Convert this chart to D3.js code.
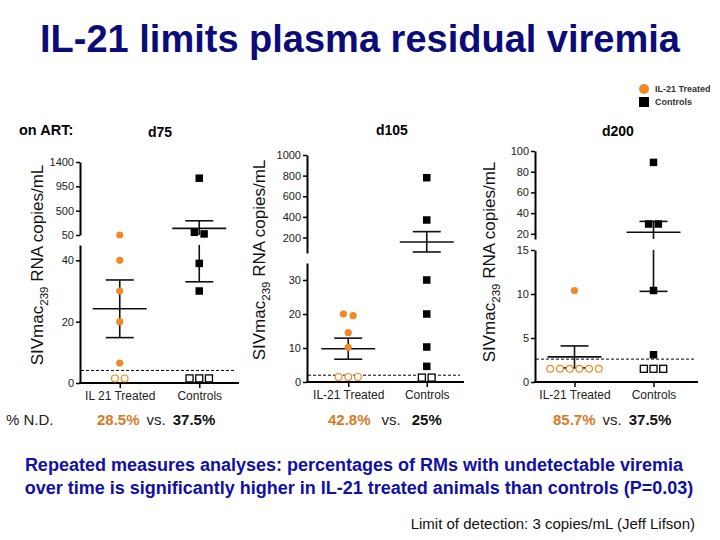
<!DOCTYPE html>
<html><head><meta charset="utf-8">
<script src="https://cdn.jsdelivr.net/npm/d3@7/dist/d3.min.js"></script>
<style>body{margin:0;background:#fff}svg{display:block;font-family:"Liberation Sans",Arial,sans-serif}</style>
</head><body><svg id="c" width="720" height="540"></svg>
<script>
// ---- data ----
const days = ["d75", "d105", "d200"];
const categoryLabels = [["IL 21 Treated", "Controls"], ["IL-21 Treated", "Controls"], ["IL-21 Treated", "Controls"]];
const treated_d75  = [50, 40, 30, 20, 6.5, 1.5, 1.5];
const controls_d75 = [1100, 100, 70, 39, 30, 1.5, 1.5, 1.5];
const treated_d105  = [20, 19.5, 14.5, 10.2, 1.5, 1.5, 1.5];
const controls_d105 = [780, 370, 30, 20, 10.3, 4.6, 1.3, 1.3];
const treated_d200  = [10.4, 1.5, 1.5, 1.5, 1.5, 1.5, 1.5];
const controls_d200 = [89, 29.5, 29.5, 10.4, 3.1, 1.5, 1.5, 1.5];
const meanTreated  = [24.2, 9.8, 2.85];
const lowTreated   = [14.8, 6.7, 1.6];
const highTreated  = [33.6, 12.9, 4.1];
const meanControls = [172, 157, 21.5];
const lowControls  = [33, 60, 10.3];
const highControls = [313, 257, 32];
const lodLine = [4.1, 2.0, 2.6];
const upperDomains = [[50, 1400], [50, 1000], [15, 100]];
const lowerDomains = [[0, 45], [0, 35], [0, 15]];
const upperTicks = [[50, 500, 950, 1400], [200, 400, 600, 800, 1000], [20, 40, 60, 80, 100]];
const lowerTicks = [[0, 20, 40], [0, 10, 20, 30], [0, 5, 10, 15]];
const pctTreated = ["28.5%", "42.8%", "85.7%"];
const pctControls = ["37.5%", "25%", "37.5%"];

const treatedSeries = [treated_d75, treated_d105, treated_d200];
const controlSeries = [controls_d75, controls_d105, controls_d200];

// ---- layout ----
const ORANGE = "#ef8a27";
const layout = [
  {ax: 80, xEnd: 239, pts: [80, 239], up: [235, 162], lo: [383, 245], titleX: 43, titleY: 265, head: [148, 137]},
  {ax: 307, xEnd: 464, pts: [309, 466], up: [253, 155], lo: [382, 263], titleX: 265, titleY: 260, head: [376, 135]},
  {ax: 535, xEnd: 698, pts: [535, 693], up: [239, 151], lo: [382, 250], titleX: 495, titleY: 262, head: [602, 136]}
];

const svg = d3.select("#c");

svg.append("text").attr("x", 360).attr("y", 52).attr("text-anchor", "middle")
  .attr("font-size", 38).attr("font-weight", "bold").attr("fill", "#0c0c78")
  .text("IL-21 limits plasma residual viremia");

svg.append("text").attr("x", 19).attr("y", 135).attr("font-size", 14.5).attr("font-weight", "bold").text("on ART:");

// legend
const lg = svg.append("g");
lg.append("circle").attr("cx", 644).attr("cy", 89).attr("r", 5).attr("fill", ORANGE);
lg.append("rect").attr("x", 639).attr("y", 97).attr("width", 10).attr("height", 10).attr("fill", "#000");
lg.append("text").attr("x", 655).attr("y", 92).attr("font-size", 9).attr("font-weight", "bold").attr("fill", "#333").text("IL-21 Treated");
lg.append("text").attr("x", 655).attr("y", 105).attr("font-size", 9).attr("font-weight", "bold").attr("fill", "#333").text("Controls");

const fmt = d3.format("d");

days.forEach((day, i) => {
  const L = layout[i];
  const g = svg.append("g");
  const yU = d3.scaleLinear().domain(upperDomains[i]).range(L.up);
  const yL = d3.scaleLinear().domain(lowerDomains[i]).range(L.lo);
  const yv = v => v <= lowerDomains[i][1] ? yL(v) : yU(Math.max(v, upperDomains[i][0]));
  const x = d3.scalePoint().domain(categoryLabels[i]).range(L.pts).padding(0.5);

  g.append("text").attr("x", L.head[0]).attr("y", L.head[1]).attr("font-size", 14).attr("font-weight", "bold").text(day);

  // y axes (broken)
  const axU = g.append("g").attr("transform", `translate(${L.ax},0)`).call(d3.axisLeft(yU).tickValues(upperTicks[i]).tickFormat(fmt).tickSize(4).tickSizeOuter(0).tickPadding(2));
  const axL = g.append("g").attr("transform", `translate(${L.ax},0)`).call(d3.axisLeft(yL).tickValues(lowerTicks[i]).tickFormat(fmt).tickSize(4).tickSizeOuter(0).tickPadding(2));
  [axU, axL].forEach(a => {
    a.select(".domain").attr("stroke-width", 2);
    a.selectAll(".tick line").attr("stroke-width", 1.5);
    a.selectAll(".tick text").attr("font-size", 11).attr("font-family", "Liberation Sans, Arial").attr("fill", "#222");
  });
  // x axis
  const axX = g.append("g").attr("transform", `translate(0,${L.lo[0]})`).call(d3.axisBottom(x).tickSize(5).tickSizeOuter(0).tickPadding(3));
  axX.select(".domain").remove();
  axX.append("line").attr("x1", L.ax - 1).attr("x2", L.xEnd).attr("stroke", "#000").attr("stroke-width", 2);
  axX.selectAll(".tick line").attr("stroke-width", 1.5);
  axX.selectAll(".tick text").attr("font-size", 12).attr("font-family", "Liberation Sans, Arial").attr("fill", "#222");

  // y title
  const t = g.append("text").attr("transform", `translate(${L.titleX},${L.titleY}) rotate(-90)`)
    .attr("text-anchor", "middle").attr("font-size", 17).attr("fill", "#111");
  t.append("tspan").text("SIVmac");
  t.append("tspan").attr("font-size", 11.5).attr("dy", 5).text("239");
  t.append("tspan").attr("dy", -5).text(" RNA copies/mL");

  // LOD dashed line
  g.append("line").attr("x1", L.ax + 1).attr("x2", L.xEnd - 4).attr("y1", yL(lodLine[i])).attr("y2", yL(lodLine[i]))
    .attr("stroke", "#000").attr("stroke-dasharray", "3,2").attr("stroke-width", 1);

  // mean +/- error
  const stats = [[meanTreated[i], lowTreated[i], highTreated[i]], [meanControls[i], lowControls[i], highControls[i]]];
  stats.forEach((s, k) => {
    const cx = x(categoryLabels[i][k]);
    const [m, lo, hi] = s;
    const eb = g.append("g").attr("stroke", "#111").attr("stroke-width", 1.6);
    const loMax = lowerDomains[i][1], upMin = upperDomains[i][0];
    if (lo < loMax) eb.append("line").attr("x1", cx).attr("x2", cx).attr("y1", yL(lo)).attr("y2", yL(Math.min(hi, loMax)));
    if (hi > upMin) eb.append("line").attr("x1", cx).attr("x2", cx).attr("y1", yU(Math.max(lo, upMin))).attr("y2", yU(hi));
    [lo, hi].forEach(v => eb.append("line").attr("x1", cx - 14).attr("x2", cx + 14).attr("y1", yv(v)).attr("y2", yv(v)));
    eb.append("line").attr("x1", cx - 27).attr("x2", cx + 27).attr("y1", yv(m)).attr("y2", yv(m));
  });

  // points (beeswarm spread of overlapping markers)
  [treatedSeries[i], controlSeries[i]].forEach((vals, k) => {
    const cx = x(categoryLabels[i][k]);
    const pts = vals.map(v => ({v, y: yv(v)})).sort((a, b) => a.y - b.y);
    const clusters = [];
    pts.forEach(p => {
      const c = clusters[clusters.length - 1];
      if (c && Math.abs(p.y - c[0].y) < 6) c.push(p); else clusters.push([p]);
    });
    clusters.forEach(c => c.forEach((p, j) => { p.x = cx + (j - (c.length - 1) / 2) * 9.7; }));
    pts.forEach(p => {
      const open = p.v < lodLine[i];
      if (k === 0) {
        g.append("circle").attr("cx", p.x).attr("cy", p.y).attr("r", open ? 3.4 : 3.6)
          .attr("fill", open ? "#fff" : ORANGE).attr("stroke", ORANGE).attr("stroke-width", open ? 1.2 : 0);
      } else {
        const s = open ? 7 : 7.5;
        g.append("rect").attr("x", p.x - s / 2).attr("y", p.y - s / 2).attr("width", s).attr("height", s)
          .attr("fill", open ? "#fff" : "#000").attr("stroke", "#000").attr("stroke-width", open ? 1.3 : 0);
      }
    });
  });
});

// % N.D. row
svg.append("text").attr("x", 6).attr("y", 425).attr("font-size", 15).attr("fill", "#222").text("% N.D.");
const pctX = [97, 328, 553];
days.forEach((d, i) => {
  const tx = svg.append("text").attr("x", pctX[i]).attr("y", 425).attr("font-size", 15);
  tx.append("tspan").attr("fill", "#d97a2b").attr("font-weight", "bold").text(pctTreated[i]);
  tx.append("tspan").attr("fill", "#222").attr("dx", i === 1 ? 11 : 7).text("vs.");
  tx.append("tspan").attr("fill", "#111").attr("font-weight", "bold").attr("dx", i === 1 ? 11 : 7).text(pctControls[i]);
});

svg.append("text").attr("x", 354).attr("y", 471).attr("text-anchor", "middle").attr("font-size", 18).attr("font-weight", "bold").attr("fill", "#1010a8")
  .text("Repeated measures analyses: percentages of RMs with undetectable viremia");
svg.append("text").attr("x", 359).attr("y", 494).attr("text-anchor", "middle").attr("font-size", 18).attr("font-weight", "bold").attr("fill", "#1010a8")
  .text("over time is significantly higher in IL-21 treated animals than controls (P=0.03)");
svg.append("text").attr("x", 695).attr("y", 529).attr("text-anchor", "end").attr("font-size", 15).attr("fill", "#111")
  .text("Limit of detection: 3 copies/mL (Jeff Lifson)");
</script></body></html>
